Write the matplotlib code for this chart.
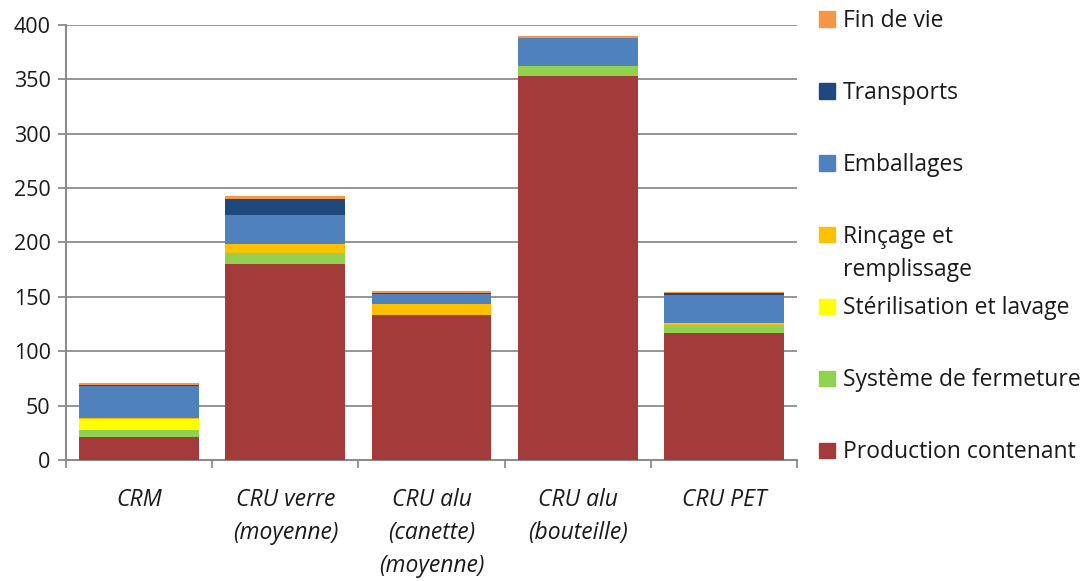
import matplotlib
matplotlib.use("Agg")
import matplotlib.pyplot as plt
import numpy as np
from matplotlib.patches import Rectangle

plt.rcParams['font.family'] = ['Open Sans', 'DejaVu Sans']

categories = ["CRM", "CRU verre\n(moyenne)", "CRU alu\n(canette)\n(moyenne)", "CRU alu\n(bouteille)", "CRU PET"]
series_names = ["Production contenant", "Système de fermeture", "Stérilisation et lavage",
                "Rinçage et\nremplissage", "Emballages", "Transports", "Fin de vie"]
production = [21, 180, 133, 353, 117]
fermeture = [7, 10, 0, 9.5, 7.5]
sterilisation = [10, 0, 0, 0, 0]
rincage = [0.5, 9, 10.5, 0, 1.2]
emballages = [30, 26, 9.5, 26, 25.7]
transports = [0.8, 15, 0.7, 0, 2.5]
fin_de_vie = [1.4, 3, 1.3, 1.5, 1]
yticks = [0, 50, 100, 150, 200, 250, 300, 350, 400]

series = [production, fermeture, sterilisation, rincage, emballages, transports, fin_de_vie]
colors = ["#A23B39", "#92D050", "#FFFF00", "#FFC000", "#4F81BD", "#1F497D", "#F79646"]

fig = plt.figure(figsize=(10.88, 5.81), dpi=100)
ax = fig.add_axes([66/1088, 1 - 460/581, (797-66)/1088, (460-25)/581])

x = np.arange(len(categories))
bottom = np.zeros(len(categories))
for vals, c in zip(series, colors):
    ax.bar(x, vals, bottom=bottom, width=0.82, color=c, edgecolor='none', zorder=3)
    bottom += np.array(vals)

ax.set_xlim(-0.5, len(categories) - 0.5)
ax.set_ylim(0, 400)
ax.set_yticks(yticks)
ax.set_yticklabels([str(v) for v in yticks], fontsize=15.5, color='#1a1a1a')
ax.yaxis.grid(True, color='#8c8c8c', linewidth=1.3, zorder=0)
ax.set_axisbelow(True)
for s in ['top', 'right']:
    ax.spines[s].set_visible(False)
ax.spines['left'].set_color('#8c8c8c')
ax.spines['left'].set_linewidth(1.5)
ax.spines['bottom'].set_color('#8c8c8c')
ax.spines['bottom'].set_linewidth(1.5)
ax.tick_params(axis='y', length=6, width=1.3, color='#8c8c8c', pad=5)

ax.set_xticks(np.arange(-0.5, len(categories)), minor=False)
ax.set_xticklabels([])
ax.tick_params(axis='x', length=6, width=1.3, color='#8c8c8c')
for xi, lab in zip(x, categories):
    ax.text(xi, -0.064, lab, transform=ax.get_xaxis_transform(), ha='center', va='top',
            fontsize=16.5, style='italic', linespacing=1.5, color='#1a1a1a')

# legend (manual)
legend_items = [("Fin de vie", "#F79646", 19),
                ("Transports", "#1F497D", 91),
                ("Emballages", "#4F81BD", 163),
                ("Rinçage et", "#FFC000", 235),
                ("Stérilisation et lavage", "#FFFF00", 306),
                ("Système de fermeture", "#92D050", 378),
                ("Production contenant", "#A23B39", 450)]
for lab, c, ypix in legend_items:
    fig.patches.append(Rectangle((819/1088, 1 - (ypix + 7.5)/581), 16/1088, 15/581,
                                 transform=fig.transFigure, color=c, figure=fig))
    fig.text(843/1088, 1 - (ypix + 2)/581, lab, ha='left', va='center', fontsize=16.5,
             color='#1a1a1a')
fig.text(843/1088, 1 - 270/581, "remplissage", ha='left', va='center', fontsize=16.5,
         color='#1a1a1a')

fig.savefig("out.png", dpi=100)
